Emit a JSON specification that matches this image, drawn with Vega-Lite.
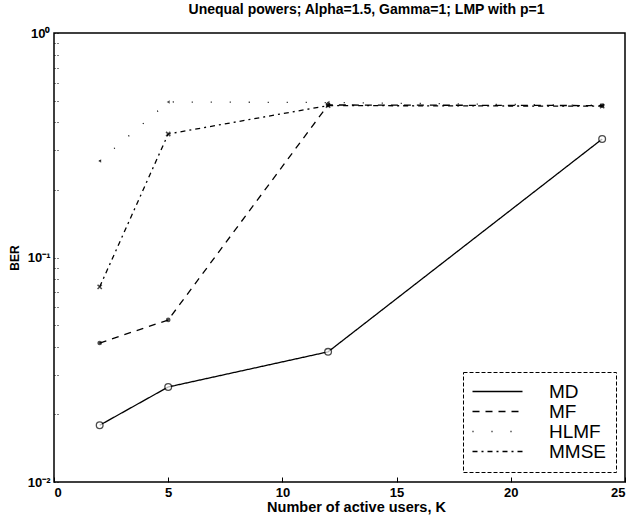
{
  "$schema": "https://vega.github.io/schema/vega-lite/v6.json",
  "autosize": "none",
  "width": 571,
  "height": 449,
  "padding": {"left": 54, "top": 33, "right": 10, "bottom": 39},
  "background": "white",
  "config": {
    "font": "Liberation Sans",
    "view": {"stroke": "black", "strokeWidth": 1.5},
    "axis": {"grid": false, "domain": false, "tickColor": "black", "labelColor": "black", "titleColor": "black", "labelFont": "Liberation Sans", "titleFont": "Liberation Sans", "labelFontWeight": "bold", "titleFontWeight": "bold"}
  },
  "title": {"text": "Unequal powers; Alpha=1.5, Gamma=1; LMP with p=1", "fontSize": 14, "fontWeight": "bold", "font": "Liberation Sans", "anchor": "middle", "offset": 10, "color": "black", "dx": 27},
  "data": {"values": [
    {"K": 2, "BER": 0.0179, "method": "MD"},
    {"K": 5, "BER": 0.0265, "method": "MD"},
    {"K": 12, "BER": 0.038, "method": "MD"},
    {"K": 24, "BER": 0.337, "method": "MD"},
    {"K": 2, "BER": 0.0416, "method": "MF"},
    {"K": 5, "BER": 0.0527, "method": "MF"},
    {"K": 12, "BER": 0.478, "method": "MF"},
    {"K": 24, "BER": 0.475, "method": "MF"},
    {"K": 2, "BER": 0.269, "method": "HLMF"},
    {"K": 5, "BER": 0.493, "method": "HLMF"},
    {"K": 12, "BER": 0.49, "method": "HLMF"},
    {"K": 24, "BER": 0.476, "method": "HLMF"},
    {"K": 2, "BER": 0.074, "method": "MMSE"},
    {"K": 5, "BER": 0.355, "method": "MMSE"},
    {"K": 12, "BER": 0.475, "method": "MMSE"},
    {"K": 24, "BER": 0.472, "method": "MMSE"}
  ]},
  "encoding": {
    "x": {"field": "K", "type": "quantitative", "scale": {"domain": [0, 25], "nice": false},
      "axis": {"values": [0, 5, 10, 15, 20, 25], "tickSize": -5, "labelPadding": 9, "labelFontSize": 13, "title": "Number of active users, K", "titleFontSize": 14.5, "titlePadding": 1, "titleX": 302, "titleAlign": "center"}},
    "y": {"field": "BER", "type": "quantitative", "scale": {"type": "log", "domain": [0.01, 1], "nice": false},
      "axis": {"values": [0.01, 0.02, 0.03, 0.04, 0.05, 0.06, 0.07, 0.08, 0.09, 0.1, 0.2, 0.3, 0.4, 0.5, 0.6, 0.7, 0.8, 0.9, 1],
        "labelExpr": "datum.value == 1 ? '10⁰' : (abs(datum.value - 0.1) < 1e-9 ? '10⁻¹' : (abs(datum.value - 0.01) < 1e-9 ? '10⁻²' : ''))",
        "tickSize": -4, "tickDash": [1, 2], "labelPadding": 8, "labelFontSize": 13, "title": "BER", "titleFontSize": 12, "titlePadding": 6}}
  },
  "layer": [
    {
      "mark": {"type": "line", "color": "black", "strokeWidth": 1.3},
      "encoding": {
        "detail": {"field": "method"},
        "strokeDash": {"field": "method", "type": "nominal",
          "scale": {"domain": ["MD", "MF", "HLMF", "MMSE"], "range": [[1, 0], [7, 6], [1, 18], [5, 4, 2, 4]]},
          "legend": {"title": null, "orient": "none", "legendX": 409, "legendY": 339, "direction": "vertical",
            "labelFontSize": 19, "labelFont": "Liberation Sans", "labelColor": "black", "labelOffset": 42,
            "symbolType": "M-5,0L5,0", "symbolSize": 100, "symbolOffset": 15, "symbolStrokeWidth": 1.5, "symbolStrokeColor": "black",
            "rowPadding": 0, "padding": 10, "strokeColor": "black", "fillColor": "white",
            "labelLimit": 200,
            "encode": {"legend": {"update": {"strokeDash": {"value": [4, 2]}}}}}}
      }
    },
    {
      "transform": [{"filter": "datum.method == 'MD'"}],
      "mark": {"type": "point", "shape": "circle", "filled": true, "fill": "white", "stroke": "black", "strokeWidth": 1.3, "size": 45}
    },
    {
      "transform": [{"filter": "datum.method == 'MF'"}],
      "mark": {"type": "point", "shape": "circle", "filled": true, "color": "black", "size": 22}
    },
    {
      "transform": [{"filter": "datum.method == 'HLMF'"}],
      "mark": {"type": "point", "shape": "triangle-left", "filled": true, "color": "black", "size": 12}
    },
    {
      "transform": [{"filter": "datum.method == 'MMSE'"}],
      "mark": {"type": "point", "shape": "M-1,-1L1,1M-1,1L1,-1", "filled": false, "color": "black", "strokeWidth": 1.5, "size": 18}
    }
  ]
}
